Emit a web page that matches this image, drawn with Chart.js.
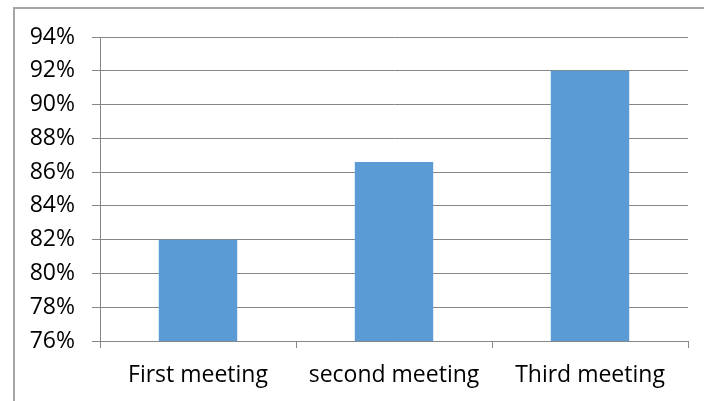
<!DOCTYPE html>
<html lang="en">
<head>
    <meta charset="UTF-8">
    <title>Meeting chart</title>
    <script src="https://cdn.jsdelivr.net/npm/chart.js"></script>
    <style>
        html, body { margin: 0; padding: 0; background: #fff; }
        .frame { position: absolute; left: 13px; top: 7px; width: 760px; height: 460px;
                 border-left: 2px solid #a6a6a6; border-top: 2px solid #a6a6a6; }
        .wrap { position: absolute; left: 0; top: 0; width: 704px; height: 401px; }
    </style>
</head>
<body>
    <div class="frame"></div>
    <div class="wrap"><canvas id="meetingChart"></canvas></div>

    <script>
        // Chart data
        const categories = ['First meeting', 'second meeting', 'Third meeting'];
        const values = [82, 86.6, 92];
        const yMin = 76, yMax = 94, yStep = 2;

        const font = { family: "'Open Sans', 'Noto Sans', sans-serif", size: 23 };

        const ctx = document.getElementById('meetingChart').getContext('2d');
        const meetingChart = new Chart(ctx, {
            type: 'bar',
            data: {
                labels: categories,
                datasets: [{
                    data: values,
                    backgroundColor: '#5b9bd5',
                    categoryPercentage: 1.0,
                    barPercentage: 0.4,
                }]
            },
            options: {
                responsive: true,
                maintainAspectRatio: false,
                animation: false,
                layout: { padding: { left: 0, right: 16, top: 37, bottom: 0 } },
                plugins: {
                    legend: { display: false },
                    tooltip: { enabled: false }
                },
                scales: {
                    x: {
                        afterFit: scale => { scale.height = 60; },
                        grid: { drawOnChartArea: false, tickLength: 7, color: '#868686', offset: true },
                        border: { color: '#868686', width: 1 },
                        ticks: { color: '#000', font: font, padding: 14 }
                    },
                    y: {
                        min: yMin,
                        max: yMax,
                        afterFit: scale => { scale.width = 100; },
                        grid: { color: '#868686', tickLength: 8 },
                        border: { color: '#868686', width: 1 },
                        ticks: {
                            stepSize: yStep,
                            color: '#000',
                            font: font,
                            padding: 17,
                            callback: v => v + '%'
                        }
                    }
                }
            }
        });
    </script>
</body>
</html>
